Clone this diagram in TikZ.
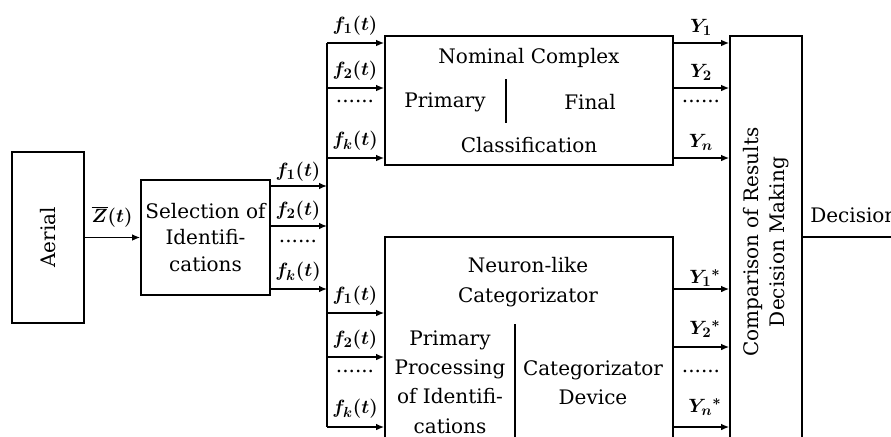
\documentclass[tikz,border=0pt]{standalone}
\usepackage{fontspec}
\setmainfont{DejaVu Serif}
\usetikzlibrary{arrows.meta}
\begin{document}
\begin{tikzpicture}[x=0.75pt,y=-0.75pt,
  blk/.style={draw,line width=1.3pt,inner sep=0pt},
  arr/.style={-{Latex[length=6pt,width=5pt]},line width=1.1pt},
  txt/.style={font=\fontsize{15}{20}\selectfont,align=center,inner sep=0pt},
  lbl/.style={font=\fontsize{15}{20}\selectfont\boldmath,inner sep=0pt}]
\clip (0,0) rectangle (891,436);
\fill[white] (0,0) rectangle (891,436);
% blocks
\node[blk,minimum width=54pt,minimum height=128.25pt] (aerial) at (48,237.5) {};
\node[blk,minimum width=96.75pt,minimum height=86.25pt] (sel) at (205.5,237.5) {};
\node[blk,minimum width=216pt,minimum height=96.75pt] (nom) at (529,100.5) {};
\node[blk,minimum width=216pt,minimum height=167.25pt] (neu) at (529,348.5) {};
\node[blk,minimum width=54pt,minimum height=309pt] (cmp) at (766,242) {};
\node[txt,rotate=90] at (aerial) {Aerial};
\node[txt] at (sel) {Selection of\\Identifi-\\cations};
\node[txt,rotate=90] at (cmp) {Comparison of Results\\Decision Making};
\node[txt] at (529,58) {Nominal Complex};
\node[txt] at (445,102) {Primary};
\node[txt] at (590,102) {Final};
\node[txt] at (529,145) {Classification};
\draw[line width=1.1pt] (506,79) -- (506,123);
\node[txt,font=\fontsize{15}{22.5}\selectfont] at (528,282) {Neuron-like\\Categorizator};
\node[txt,font=\fontsize{15}{22}\selectfont] at (450,382) {Primary\\Processing\\of Identifi-\\cations};
\node[txt,font=\fontsize{15}{22}\selectfont] at (593,383) {Categorizator\\Device};
\draw[line width=1.1pt] (515,324) -- (515,450);
% bus
\coordinate (bus) at (327,43);
\coordinate (busend) at (327,427);
\coordinate (out) at (900,237);
\draw[line width=1.1pt] (bus) -- (busend);
\draw[arr] (aerial) -- (sel);
\node[lbl] (z) at (112,217) {$\overline{Z}(t)$};
\foreach \y in {186,226,289} {
\draw[arr] (sel.east |- 0,\y) -- (bus |- 0,\y);
}
\foreach \y in {43,88,158} {
\draw[arr] (bus |- 0,\y) -- (nom.west |- 0,\y);
\draw[arr] (nom.east |- 0,\y) -- (cmp.west |- 0,\y);
}
\foreach \y in {313,357,427} {
\draw[arr] (bus |- 0,\y) -- (neu.west |- 0,\y);
}
\foreach \y in {289,347,427} {
\draw[arr] (neu.east |- 0,\y) -- (cmp.west |- 0,\y);
}
\draw[line width=1.1pt] (cmp.east |- out) -- (out);
\node[txt,anchor=west] (dec) at (810,215) {Decision};
% labels
\node[lbl] at (298,172) {$f_1(t)$};
\node[lbl] at (298,211) {$f_2(t)$};
\node[txt] at (298,241) {......};
\node[lbl] at (298,272) {$f_k(t)$};
\node[lbl] at (355,26) {$f_1(t)$};
\node[lbl] at (355,71) {$f_2(t)$};
\node[txt] at (355,101) {......};
\node[lbl] at (355,141) {$f_k(t)$};
\node[lbl] at (355,296) {$f_1(t)$};
\node[lbl] at (355,340) {$f_2(t)$};
\node[txt] at (355,371) {......};
\node[lbl] at (355,409) {$f_k(t)$};
\node[lbl] at (701,27) {$Y_1$};
\node[lbl] at (701,72) {$Y_2$};
\node[txt] at (701,101) {......};
\node[lbl] at (701,142) {$Y_n$};
\node[lbl] at (705,278) {$Y_1{}^*$};
\node[lbl] at (705,329) {$Y_2{}^*$};
\node[txt] at (701,371) {......};
\node[lbl] at (705,407) {$Y_n{}^*$};
\end{tikzpicture}
\end{document}
